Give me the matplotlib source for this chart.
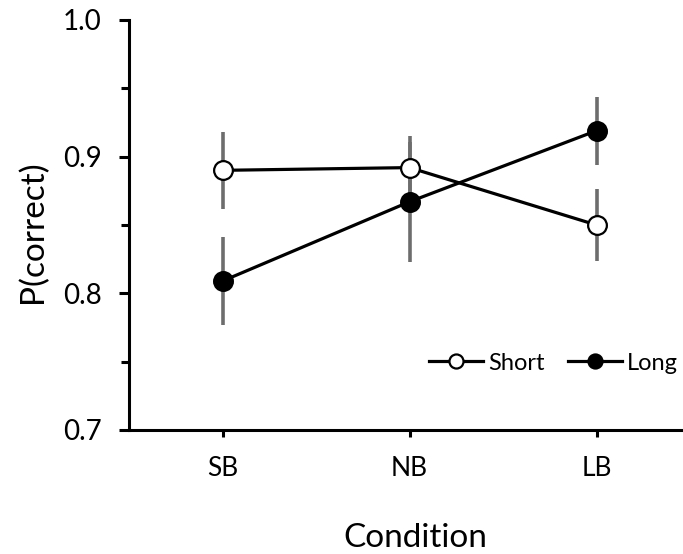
import matplotlib
matplotlib.use("Agg")
import matplotlib.pyplot as plt
from matplotlib.ticker import MultipleLocator
import numpy as np

conditions = ["SB", "NB", "LB"]
short_vals = [0.890, 0.892, 0.850]
short_err = [0.028, 0.023, 0.026]
long_vals = [0.809, 0.867, 0.919]
long_err = [0.032, 0.044, 0.025]

plt.rcParams['font.family'] = ['Lato', 'DejaVu Sans']

W, H = 683, 554
fig = plt.figure(figsize=(W / 100, H / 100), dpi=100)
ax_l, ax_r, ax_b, ax_t = 129, 690, 430, 20
ax = fig.add_axes([ax_l / W, 1 - ax_b / H, (ax_r - ax_l) / W, (ax_b - ax_t) / H])

x = np.arange(len(conditions))
err_color = "#6d6d6d"
ax.errorbar(x, short_vals, yerr=short_err, fmt='none', ecolor=err_color, elinewidth=2.6, capsize=0, zorder=1)
ax.errorbar(x, long_vals, yerr=long_err, fmt='none', ecolor=err_color, elinewidth=2.6, capsize=0, zorder=1)

ax.plot(x, short_vals, '-o', color='black', lw=2.3, ms=13.5, mfc='white', mec='black', mew=1.6,
        label='Short', zorder=3)
ax.plot(x, long_vals, '-o', color='black', lw=2.3, ms=13.5, mfc='black', mec='black', mew=1.6,
        label='Long', zorder=3)

ax.set_xlim(-0.5, 2.5)
ax.set_ylim(0.7, 1.0)
ax.set_xticks(x)
ax.set_xticklabels(conditions)
ax.yaxis.set_minor_locator(MultipleLocator(0.05))
ax.set_yticks([0.7, 0.8, 0.9, 1.0])
ax.set_yticklabels(["0.7", "0.8", "0.9", "1.0"])

for s in ['top', 'right']:
    ax.spines[s].set_visible(False)
for s in ['left', 'bottom']:
    ax.spines[s].set_linewidth(2.2)
    ax.spines[s].set_color('black')

ax.tick_params(axis='y', which='major', length=7.5, width=2.2, direction='out', labelsize=20, pad=12)
ax.tick_params(axis='y', which='minor', length=6, width=2.2, direction='out')
ax.tick_params(axis='x', which='major', length=5, width=2.2, direction='out', labelsize=19, pad=14)

ax.set_xlabel("Condition", fontsize=24, va='baseline')
ax.xaxis.set_label_coords((415 - ax_l) / (ax_r - ax_l), -(547 - ax_b) / (ax_b - ax_t))
ax.set_ylabel("P(correct)", fontsize=24)
ax.yaxis.set_label_coords(-(ax_l - 48) / (ax_r - ax_l), (ax_b - 232) / (ax_b - ax_t))

leg = ax.legend(loc='center left', bbox_to_anchor=(429 / W, 1 - 363 / H), bbox_transform=fig.transFigure,
                ncol=2, frameon=False, fontsize=17, handlelength=2.3, handletextpad=0.2,
                columnspacing=1.0, borderpad=0, borderaxespad=0, markerscale=0.75)

fig.savefig("out.png", dpi=100)
